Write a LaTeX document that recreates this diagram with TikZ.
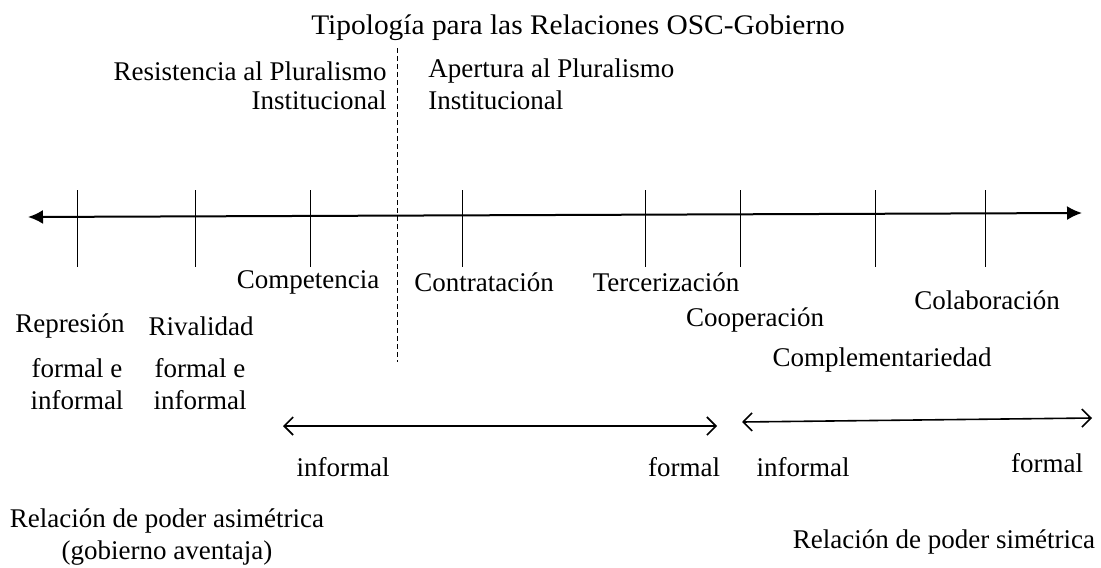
\documentclass[tikz,border=0pt]{standalone}
\usepackage{fontspec}
\setmainfont{Liberation Serif}
\usetikzlibrary{arrows.meta}

\begin{document}
\begin{tikzpicture}[x=0.5pt,y=-0.5pt,
    lbl/.style={inner sep=0pt,font=\fontsize{13.5}{16}\selectfont},
    tick/.style={line width=0.5pt},
    span/.style={line width=0.8pt,{Straight Barb[length=4.5pt,width=9pt]}-{Straight Barb[length=4.5pt,width=9pt]}}]
    \useasboundingbox (0,0) rectangle (1101,567);
    \node[lbl] (title) at (578,28) {\scalebox{1.09}[1.05]{Tipología para las Relaciones OSC-Gobierno}};
    \node[lbl,anchor=east] (resist) at (387,71) {Resistencia al Pluralismo};
    \node[lbl,anchor=east] (resistb) at (387,100) {Institucional};
    \node[lbl,anchor=west] (apert) at (428,71) {Apertura al Pluralismo};
    \node[lbl,anchor=west] (apertb) at (428,100) {Institucional};
    \coordinate (dtop) at (397,48);
    \coordinate (dbot) at (397,362);
    \draw[dashed,line width=0.5pt,dash pattern=on 2.5pt off 1.5pt] (dtop) -- (dbot);
    \coordinate (axl) at (28,217);
    \coordinate (axr) at (1082,213);
    \draw[line width=1pt,{Latex[length=7.5pt,width=7pt]}-{Latex[length=7.5pt,width=7pt]}] (axl) -- (axr);
    \foreach \t/\x in {a/77,b/195,c/310,d/462,e/645,f/740,g/875,h/985} {
        \coordinate (t\t u) at (\x,190);
        \coordinate (t\t d) at (\x,267);
        \draw[tick] (t\t u) -- (t\t d);
    }
    \node[lbl] (comp) at (308,282) {Competencia};
    \node[lbl] (contr) at (484,282) {Contratación};
    \node[lbl] (terc) at (666,282) {Tercerización};
    \node[lbl] (colab) at (987,300) {Colaboración};
    \node[lbl] (coop) at (755,320) {Cooperación};
    \node[lbl] (compl) at (882,360) {Complementariedad};
    \node[lbl] (repr) at (70,326) {Represión};
    \node[lbl] (rival) at (201,326) {Rivalidad};
    \node[lbl,align=center] (repf) at (77,384) {formal e\\informal};
    \node[lbl,align=center] (rivf) at (200,384) {formal e\\informal};
    \coordinate (spal) at (283,426);
    \coordinate (spar) at (717,426);
    \draw[span] (spal) -- (spar);
    \coordinate (spbl) at (742,422);
    \coordinate (spbr) at (1092,418);
    \draw[span] (spbl) -- (spbr);
    \node[lbl] (infa) at (343,467) {informal};
    \node[lbl] (fora) at (684,467) {formal};
    \node[lbl] (infb) at (803,467) {informal};
    \node[lbl] (forb) at (1047,463) {formal};
    \node[lbl,align=center] (asim) at (167,537) {Relación de poder asimétrica\\(gobierno aventaja)};
    \node[lbl] (sim) at (944,542) {Relación de poder simétrica};
\end{tikzpicture}
\end{document}
